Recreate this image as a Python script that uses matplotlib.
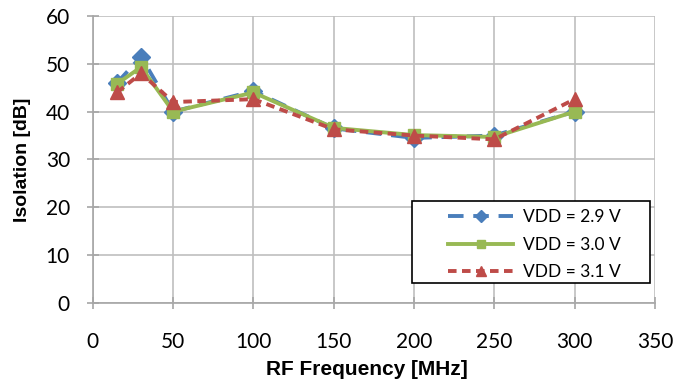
import matplotlib
matplotlib.use("Agg")
import matplotlib.pyplot as plt
from matplotlib.patches import Rectangle

# isolation vs RF frequency for three supply voltages
freq = [15, 30, 50, 100, 150, 200, 250, 300]
iso_29 = [46.0, 51.5, 40.0, 44.3, 36.5, 34.5, 35.0, 40.0]
iso_30 = [45.8, 49.3, 40.0, 44.0, 36.6, 35.1, 34.7, 40.0]
iso_31 = [44.0, 48.0, 42.0, 42.6, 36.3, 35.0, 34.2, 42.6]

xticks = [0, 50, 100, 150, 200, 250, 300, 350]
yticks = [0, 10, 20, 30, 40, 50, 60]

fig = plt.figure(figsize=(6.78, 3.88), dpi=100)
ax = fig.add_axes([0.137, 0.219, 0.829, 0.740])

ax.plot(freq, iso_29, color='#4a7ebb', lw=2.8, dashes=(4, 2.5), marker='D', ms=9,
        label='VDD = 2.9 V')
ax.plot(freq, iso_30, color='#98b954', lw=2.8, marker='s', ms=8.5,
        label='VDD = 3.0 V')
ax.plot(freq, iso_31, color='#be4b48', lw=2.8, dashes=(2.2, 1.4), marker='^', ms=9.5,
        label='VDD = 3.1 V')

ax.set_xlim(0, 350)
ax.set_ylim(0, 60)
ax.set_xticks(xticks)
ax.set_yticks(yticks)
ax.grid(True, color='#bfbfbf', lw=1.2)
ax.set_axisbelow(True)
for s in ['top', 'right']:
    ax.spines[s].set_visible(False)
for s in ['left', 'bottom']:
    ax.spines[s].set_color('#a6a6a6')
    ax.spines[s].set_linewidth(1.2)
ax.tick_params(direction='inout', length=9, color='#a6a6a6', width=1.2,
               labelsize=15)
ax.tick_params(axis='x', pad=16)
ax.tick_params(axis='y', pad=12)
for lab in ax.get_xticklabels() + ax.get_yticklabels():
    lab.set_family('Lato')

ax.set_xlabel('RF Frequency [MHz]', fontsize=15, fontweight='bold',
              family='Liberation Sans')
ax.set_ylabel('Isolation [dB]', fontsize=14, fontweight='bold',
              family='Liberation Sans')
ax.xaxis.set_label_coords(0.488, -0.199)
ax.yaxis.set_label_coords(-0.110, 0.5)

# legend box with wide side margins
box = Rectangle((0.568, 0.070), 0.423, 0.285, transform=ax.transAxes,
                facecolor='white', edgecolor='black', lw=1.2, zorder=4)
ax.add_patch(box)
leg = ax.legend(loc='upper left', bbox_to_anchor=(0.632, 0.326), frameon=False,
                handlelength=3.75, markerscale=0.7, borderpad=0, borderaxespad=0,
                prop={'family': 'Lato', 'size': 12.5},
                labelspacing=0.65, handletextpad=0.55)
leg.set_zorder(5)

fig.savefig('out.png', dpi=100)
